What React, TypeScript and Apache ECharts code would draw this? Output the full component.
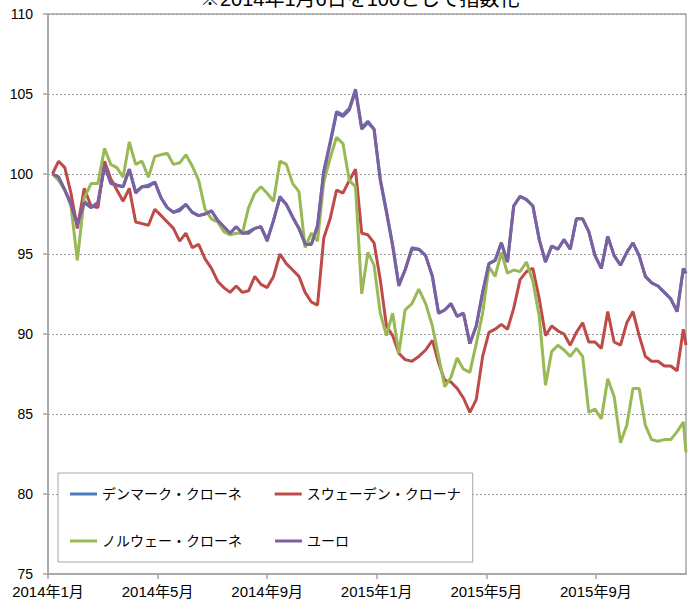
import React, { useEffect, useRef } from "react";
import * as echarts from "echarts";

const titleText = "※2014年1月6日を100として指数化";

const seriesNames = ["デンマーク・クローネ", "スウェーデン・クローナ", "ノルウェー・クローネ", "ユーロ"];
const seriesColors = ["#4a7ebb", "#be4b48", "#98b954", "#7d60a0"];

const dates = [
  "2014-01-06", "2014-01-13", "2014-01-20", "2014-01-27",
  "2014-02-03", "2014-02-10", "2014-02-17", "2014-02-24",
  "2014-03-03", "2014-03-10", "2014-03-17", "2014-03-24", "2014-03-31",
  "2014-04-07", "2014-04-14", "2014-04-21", "2014-04-28",
  "2014-05-05", "2014-05-12", "2014-05-19", "2014-05-26",
  "2014-06-02", "2014-06-09", "2014-06-16", "2014-06-23", "2014-06-30",
  "2014-07-07", "2014-07-14", "2014-07-21", "2014-07-28",
  "2014-08-04", "2014-08-11", "2014-08-18", "2014-08-25",
  "2014-09-01", "2014-09-08", "2014-09-15", "2014-09-22", "2014-09-29",
  "2014-10-06", "2014-10-13", "2014-10-20", "2014-10-27",
  "2014-11-03", "2014-11-10", "2014-11-17", "2014-11-24",
  "2014-12-01", "2014-12-08", "2014-12-15", "2014-12-22", "2014-12-29",
  "2015-01-05", "2015-01-12", "2015-01-19", "2015-01-26",
  "2015-02-02", "2015-02-09", "2015-02-16", "2015-02-23",
  "2015-03-02", "2015-03-09", "2015-03-16", "2015-03-23", "2015-03-30",
  "2015-04-06", "2015-04-13", "2015-04-20", "2015-04-27",
  "2015-05-04", "2015-05-11", "2015-05-18", "2015-05-25",
  "2015-06-01", "2015-06-08", "2015-06-15", "2015-06-22", "2015-06-29",
  "2015-07-06", "2015-07-13", "2015-07-20", "2015-07-27",
  "2015-08-03", "2015-08-10", "2015-08-17", "2015-08-24", "2015-08-31",
  "2015-09-07", "2015-09-14", "2015-09-21", "2015-09-28",
  "2015-10-05", "2015-10-12", "2015-10-19", "2015-10-26",
  "2015-11-02", "2015-11-09", "2015-11-16", "2015-11-23", "2015-11-30",
  "2015-12-07", "2015-12-10",
];

// Danish krone
const dkk = [
  100.0, 99.8, 99.0, 98.2, 96.9, 98.3, 97.9, 98.2, 100.5, 99.5, 99.3, 99.2, 100.3,
  98.9, 99.2, 99.3, 99.5, 98.5, 97.9, 97.6, 97.8, 98.1, 97.6, 97.4, 97.5, 97.7,
  97.1, 96.7, 96.3, 96.7, 96.3, 96.4, 96.6, 96.7, 95.9, 97.1, 98.6, 98.1, 97.3,
  96.6, 95.7, 95.6, 96.8, 100.2, 102.0, 103.9, 103.7, 104.1, 105.3, 102.9, 103.3, 102.8,
  99.7, 97.7, 95.6, 93.1, 94.0, 95.4, 95.3, 94.9, 93.6, 91.3, 91.5, 91.9, 91.1,
  91.3, 89.4, 90.5, 92.6, 94.4, 94.6, 95.7, 94.5, 98.0, 98.6, 98.4, 98.0, 95.9,
  94.5, 95.5, 95.3, 95.9, 95.3, 97.2, 97.2, 96.4, 94.9, 94.1, 96.1, 94.9, 94.3,
  95.1, 95.7, 94.9, 93.6, 93.2, 93.0, 92.6, 92.2, 91.4, 94.1, 93.8,
];

// Swedish krona
const sek = [
  100.0, 100.8, 100.4, 98.8, 96.6, 99.1, 98.0, 97.9, 100.8, 99.7, 99.0, 98.3, 99.1,
  97.0, 96.9, 96.8, 97.8, 97.4, 97.0, 96.6, 95.8, 96.3, 95.4, 95.6, 94.7, 94.1,
  93.3, 92.9, 92.6, 93.0, 92.6, 92.7, 93.6, 93.1, 92.9, 93.6, 95.0, 94.4, 94.0,
  93.6, 92.6, 92.0, 91.8, 96.0, 97.2, 99.0, 98.8, 99.6, 100.3, 96.3, 96.2, 95.7,
  93.4, 90.5, 89.9, 88.8, 88.4, 88.3, 88.6, 89.0, 89.6, 88.2, 87.1, 87.0, 86.6,
  86.0, 85.1, 85.9, 88.6, 90.1, 90.3, 90.6, 90.3, 91.6, 93.4, 93.9, 94.1, 92.2,
  89.9, 90.5, 90.2, 90.0, 89.3, 90.1, 90.7, 89.5, 89.5, 89.1, 91.4, 89.5, 89.3,
  90.7, 91.4, 89.9, 88.6, 88.3, 88.3, 88.0, 88.0, 87.7, 90.3, 89.3,
];

// Norwegian krone
const nok = [
  100.0, 99.6, 99.0, 98.0, 94.6, 98.5, 99.4, 99.4, 101.6, 100.6, 100.4, 99.8, 102.0,
  100.6, 100.8, 99.8, 101.1, 101.2, 101.3, 100.6, 100.7, 101.2, 100.5, 99.6, 97.8, 97.2,
  97.0, 96.4, 96.2, 96.3, 96.3, 97.9, 98.8, 99.2, 98.8, 98.3, 100.8, 100.6, 99.4,
  98.9, 95.4, 96.3, 95.8, 99.5, 101.0, 102.3, 101.9, 99.6, 99.2, 92.5, 95.1, 94.3,
  91.3, 89.9, 91.3, 88.8, 91.5, 91.9, 92.8, 91.9, 90.5, 88.6, 86.7, 87.3, 88.5,
  87.8, 87.6, 89.4, 91.3, 94.2, 93.6, 95.1, 93.8, 94.0, 93.9, 94.5, 93.3, 91.1,
  86.8, 88.9, 89.3, 89.0, 88.6, 89.1, 88.6, 85.1, 85.3, 84.7, 87.2, 86.1, 83.2,
  84.3, 86.6, 86.6, 84.3, 83.4, 83.3, 83.4, 83.4, 83.9, 84.5, 82.6,
];

// Euro
const eur = [
  100.0, 99.8, 99.0, 98.1, 96.8, 98.2, 97.9, 98.2, 100.5, 99.4, 99.3, 99.2, 100.3,
  98.8, 99.2, 99.2, 99.5, 98.5, 97.9, 97.6, 97.7, 98.1, 97.6, 97.4, 97.5, 97.7,
  97.1, 96.7, 96.3, 96.7, 96.3, 96.3, 96.6, 96.7, 95.8, 97.1, 98.5, 98.1, 97.3,
  96.6, 95.6, 95.6, 96.7, 100.1, 101.9, 103.8, 103.6, 104.0, 105.2, 102.8, 103.2, 102.8,
  99.6, 97.6, 95.5, 93.0, 94.0, 95.3, 95.3, 94.9, 93.6, 91.3, 91.5, 91.9, 91.1,
  91.3, 89.4, 90.5, 92.6, 94.4, 94.6, 95.7, 94.5, 98.0, 98.6, 98.4, 98.0, 95.9,
  94.5, 95.5, 95.3, 95.9, 95.3, 97.2, 97.2, 96.4, 94.9, 94.1, 96.1, 94.9, 94.3,
  95.1, 95.7, 94.9, 93.6, 93.2, 93.0, 92.6, 92.2, 91.4, 94.1, 93.8,
];

const seriesValues = [dkk, sek, nok, eur];

const yMin = 75;
const yMax = 110;
const yStep = 5;
const xStepMonths = 4;

const FONT = '"Liberation Sans", Arial, "Noto Sans CJK JP", sans-serif';

function monthIndex(s: string): number {
  const [y, m, d] = s.split("-").map(Number);
  const dim = new Date(y, m, 0).getDate();
  return (y - 2014) * 12 + (m - 1) + (d - 1) / dim;
}

function monthLabel(v: number): string {
  const r = Math.round(v);
  if (Math.abs(v - r) > 1e-6 || r % xStepMonths !== 0) return "";
  const year = 2014 + Math.floor(r / 12);
  const month = (r % 12) + 1;
  return `${year}年${month}月`;
}

export default function App() {
  const ref = useRef<HTMLDivElement>(null);

  useEffect(() => {
    if (!ref.current) return;
    const chart = echarts.init(ref.current, undefined, { renderer: "svg" });
    const xs = dates.map(monthIndex);
    const xMax = xs[xs.length - 1];

    chart.setOption({
      animation: false,
      backgroundColor: "#ffffff",
      title: {
        text: titleText,
        left: 200,
        top: -11,
        padding: 0,
        textStyle: { fontSize: 20, fontWeight: "normal", color: "#000", fontFamily: FONT },
      },
      legend: {
        data: seriesNames,
        left: 58,
        top: 473,
        width: 400,
        orient: "horizontal",
        icon: "rect",
        itemWidth: 27,
        itemHeight: 3,
        itemGap: 33,
        padding: [14, 12, 14, 12],
        borderColor: "#a6a6a6",
        borderWidth: 1,
        backgroundColor: "#ffffff",
        textStyle: { fontSize: 14, color: "#000", fontFamily: FONT },
      },
      grid: {
        left: 48,
        right: 2,
        top: 14,
        bottom: 31,
        show: true,
        borderColor: "#a6a6a6",
        borderWidth: 1.5,
        backgroundColor: "#ffffff",
      },
      xAxis: {
        type: "value",
        min: 0,
        max: xMax,
        interval: xStepMonths,
        axisLine: { show: true, lineStyle: { color: "#a6a6a6", width: 1.5 } },
        axisTick: { show: true, length: 5, lineStyle: { color: "#a6a6a6", width: 1.5 } },
        axisLabel: {
          formatter: monthLabel,
          color: "#000",
          fontSize: 15,
          margin: 10,
          fontFamily: FONT,
          showMaxLabel: false,
        },
        splitLine: { show: false },
      },
      yAxis: {
        type: "value",
        min: yMin,
        max: yMax,
        interval: yStep,
        axisLine: { show: true, lineStyle: { color: "#a6a6a6", width: 1.5 } },
        axisTick: { show: true, length: 5, lineStyle: { color: "#a6a6a6", width: 1.5 } },
        axisLabel: { color: "#000", fontSize: 14, margin: 15, fontFamily: FONT },
        splitLine: { show: true, lineStyle: { color: "#9a9a9a", width: 1, type: [2, 2] } },
      },
      series: seriesNames.map((name, si) => ({
        name,
        type: "line",
        showSymbol: false,
        symbol: "none",
        color: seriesColors[si],
        lineStyle: { color: seriesColors[si], width: 3 },
        data: xs.map((x, i) => [x, seriesValues[si][i]]),
      })),
    });

    return () => chart.dispose();
  }, []);

  return (
    <div
      ref={ref}
      style={{ position: "absolute", left: 0, top: 0, width: 688, height: 605 }}
    />
  );
}
